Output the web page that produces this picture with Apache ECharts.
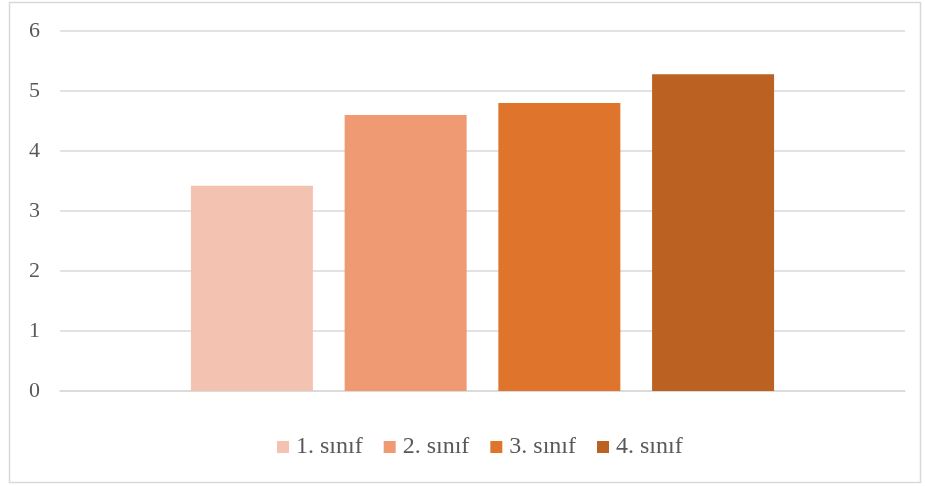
<!DOCTYPE html>
<html>
<head>
<meta charset="utf-8">
<script src="https://cdn.jsdelivr.net/npm/echarts@6/dist/echarts.min.js"></script>
<style>
html, body { margin: 0; padding: 0; background: #fff; }
#main { width: 925px; height: 486px; }
</style>
</head>
<body>
<div id="main"></div>
<script>
// veriler
var categories = [''];
var seriesNames = ['1. sınıf', '2. sınıf', '3. sınıf', '4. sınıf'];
var seriesValues = [3.42, 4.6, 4.8, 5.28];
var seriesColors = ['#f4c2b0', '#f09a73', '#df742d', '#bb6122'];
var yTicks = [0, 1, 2, 3, 4, 5, 6];

var chart = echarts.init(document.getElementById('main'));

var series = seriesNames.map(function (name, i) {
	return {
		name: name,
		type: 'bar',
		barWidth: 122,
		barGap: '26%',
		itemStyle: { color: seriesColors[i] },
		data: [seriesValues[i]]
	};
});

var option = {
	backgroundColor: '#fff',
	animation: false,
	textStyle: { fontFamily: 'Liberation Serif' },
	graphic: [{
		type: 'rect',
		shape: { x: 9.5, y: 2.5, width: 911, height: 480 },
		style: { fill: 'none', stroke: '#d9d9d9', lineWidth: 1.5 },
		silent: true
	}],
	grid: { left: 60, right: 20, top: 31, bottom: 95 },
	legend: {
		bottom: 22,
		left: 272,
		itemWidth: 12,
		itemHeight: 12,
		itemGap: 21,
		icon: 'rect',
		textStyle: { color: '#595959', fontSize: 24, fontFamily: 'Liberation Serif', padding: [0, 0, 0, 2] },
		data: seriesNames
	},
	xAxis: {
		type: 'category',
		data: categories,
		axisLine: { lineStyle: { color: '#d9d9d9', width: 1.5 } },
		axisTick: { show: false },
		axisLabel: { show: false }
	},
	yAxis: {
		type: 'value',
		min: yTicks[0],
		max: yTicks[yTicks.length - 1],
		interval: 1,
		axisLine: { show: false },
		axisTick: { show: false },
		axisLabel: { color: '#595959', fontSize: 22, margin: 20, fontFamily: 'Liberation Serif' },
		splitLine: { lineStyle: { color: '#d9d9d9', width: 1.5 } }
	},
	series: series
};

chart.setOption(option);
</script>
</body>
</html>
